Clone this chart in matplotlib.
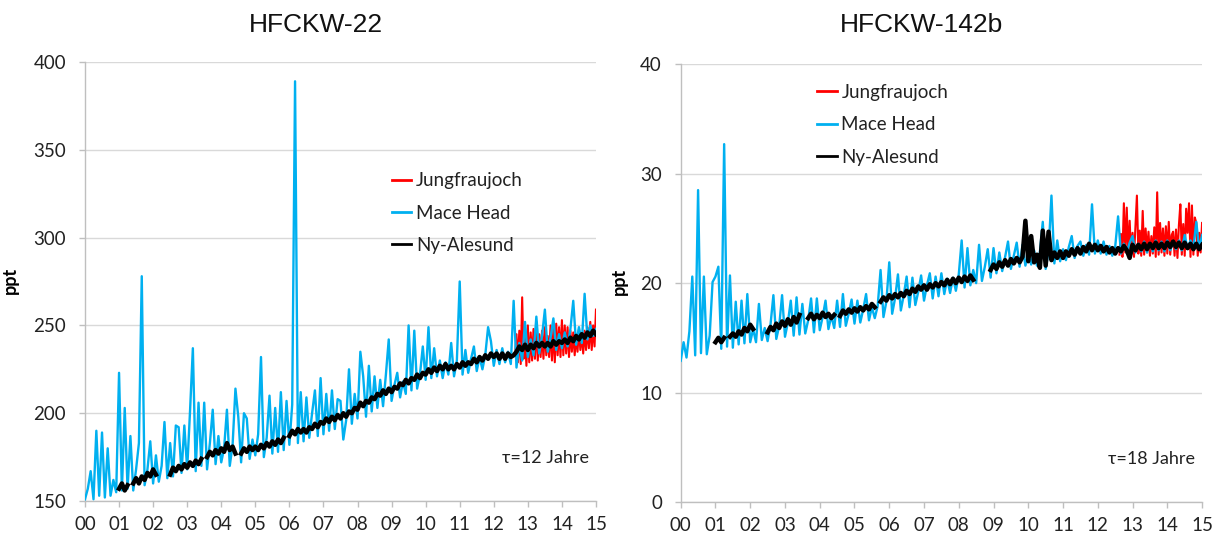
import numpy as np
import matplotlib
matplotlib.use("Agg")
import matplotlib.pyplot as plt
from matplotlib.lines import Line2D

nan = np.nan

# ---------------- HFCKW-22 (ppt) ----------------
# Mace Head, monthly values starting 2000.0
mh22 = [
    151, 157, 167, 151, 190, 153, 189, 152, 180, 153, 162, 155,
    223, 156, 203, 157, 187, 156, 168, 183, 278, 159, 168, 184,
    160, 176, 161, 170, 195, 163, 183, 164, 193, 192, 166, 193,
    168, 201, 237, 167, 206, 170, 206, 168, 183, 202, 171, 187,
    172, 180, 202, 170, 182, 214, 198, 172, 200, 197, 174, 185,
    176, 188, 232, 175, 186, 210, 177, 203, 178, 212, 179, 207,
    182, 205, 389, 183, 212, 184, 209, 186, 200, 213, 187, 220,
    188, 211, 190, 213, 191, 208, 207, 185, 196, 225, 194, 211,
    197, 235, 221, 198, 227, 201, 221, 203, 219, 204, 222, 242,
    207, 216, 223, 209, 218, 211, 250, 213, 247, 214, 222, 238,
    219, 249, 220, 237, 221, 230, 220, 229, 222, 240, 221, 230,
    275, 222, 236, 223, 231, 238, 224, 232, 225, 233, 249, 241,
    227, 236, 228, 237, 229, 235, 228, 264, 226, 240, 230, 252,
    232, 242, 233, 255, 234, 244, 259, 235, 243, 254, 236, 245,
    237, 246, 238, 248, 264, 239, 249, 240, 268, 242, 250, 244,
    248,
]
# Ny-Alesund, monthly values starting 2001.0 (nan = no data)
ny22 = [
    157, 160, 156, 159, nan, 160, 163, 160, 164, 162, 166, 164,
    168, 165, nan, nan, nan, nan, 165, 169, 167, 170, 168, 171,
    169, 172, 170, 173, 171, 174, nan, 175, 178, 176, 179, 177,
    180, 178, 183, 179, 181, 177, nan, 177, 180, 178, 181, 179,
    181, 179, 182, 180, 183, 181, 184, 182, 185, 183, 186, nan,
    187, 190, 188, 191, 189, 191, 189, 192, 191, 194, 192, 195,
    194, 197, 195, 198, 196, 199, 197, 200, 198, 201, 200, 203,
    202, 206, 204, 207, 206, 209, 208, 211, 210, 213, 211, 214,
    212, 215, 214, 217, 216, 219, 217, 220, 219, 222, 220, 223,
    222, 225, 223, 226, 224, 227, 225, 228, 225, 227, 225, 228,
    226, 229, 227, 229, 228, 231, 229, 232, 230, 233, 231, 234,
    232, 234, 231, 234, 231, 234, 232, 233, 235, 238, 236, 239,
    236, 239, 237, 240, 238, 240, 238, 240, 238, 241, 239, 241,
    240, 242, 240, 243, 241, 244, 242, 245, 243, 246, 244, 247,
    245,
]
# Jungfraujoch, half-monthly values starting 2012.625
jf22 = [
    233, 245, 229, 247, 228, 266, 231, 244, 227, 250, 229, 246,
    230, 248, 231, 252, 230, 245, 232, 247, 231, 249, 233, 244,
    232, 250, 230, 248, 229, 251, 233, 249, 232, 253, 233, 250,
    234, 249, 232, 247, 235, 246, 233, 244, 235, 248, 236, 245,
    234, 247, 236, 249, 237, 252, 236, 250, 238, 259,
]

# ---------------- HFCKW-142b (ppt) ----------------
mh142 = [
    12.9, 14.6, 13.2, 15.6, 20.6, 13.4, 28.5, 13.6, 20.6, 13.5, 15.2, 20.1,
    20.6, 21.5, 14.0, 32.7, 14.2, 20.7, 14.1, 18.3, 14.4, 18.4, 14.5, 19.0,
    14.6, 15.8, 14.6, 18.1, 14.8, 15.9, 14.7, 16.2, 18.9, 14.9, 16.1, 18.9,
    15.1, 16.4, 18.4, 15.2, 18.7, 15.3, 18.1, 15.4, 16.6, 18.6, 15.5, 18.6,
    15.7, 16.9, 18.4, 15.8, 17.0, 15.9, 18.4, 16.0, 19.0, 16.1, 17.2, 18.5,
    16.3, 18.4, 16.4, 17.6, 19.0, 16.6, 17.8, 16.8, 17.9, 21.2, 16.9, 18.3,
    21.9, 17.2, 18.6, 20.8, 17.5, 18.9, 20.6, 17.8, 20.5, 18.0, 19.2, 20.7,
    18.4, 19.8, 20.9, 18.6, 20.6, 18.8, 20.9, 19.0, 20.4, 19.1, 20.5, 19.3,
    20.8, 23.9, 19.6, 23.2, 19.8, 21.2, 20.0, 23.5, 20.2, 21.5, 23.1, 20.5,
    23.2, 20.9, 22.8, 21.1, 22.4, 23.8, 21.3, 22.5, 23.7, 21.5, 23.5, 21.6,
    22.6, 21.7, 23.0, 21.6, 22.8, 25.6, 21.3, 22.9, 28.0, 21.8, 23.9, 22.0,
    23.1, 22.1, 23.3, 24.3, 22.3, 23.4, 23.8, 22.5, 23.5, 22.6, 27.2, 22.7,
    23.9, 22.7, 23.8, 22.6, 23.4, 22.5, 23.3, 26.1, 22.7, 23.6, 22.8, 23.7,
    24.3, 22.8, 23.6, 22.9, 23.8, 22.8, 23.7, 22.9, 23.9, 23.0, 23.8, 22.9,
    23.9, 23.0, 23.8, 23.1, 23.9, 23.0, 24.4, 23.1, 23.9, 23.2, 25.6, 23.1,
    24.4,
]
ny142 = [
    14.6, 15.0, 14.6, 15.0, nan, 15.1, 15.4, 15.1, 15.6, 15.3, 15.9, 15.6,
    16.2, 15.8, nan, nan, nan, nan, 15.5, 16.0, 15.7, 16.3, 15.9, 16.5,
    16.1, 16.7, 16.2, 16.9, 16.4, 17.1, nan, nan, 16.8, 17.2, 16.7, 17.1,
    16.8, 17.3, 16.9, 17.2, 16.8, 17.1, nan, 17.0, 17.5, 17.2, 17.6, 17.3,
    17.7, 17.4, 17.8, 17.5, 17.9, 17.6, 18.1, 17.8, nan, 18.3, 18.7, 18.4,
    18.9, 18.6, 19.0, 18.7, 19.1, 18.8, 19.3, 19.0, 19.5, 19.2, 19.7, 19.4,
    19.8, 19.4, 19.9, 19.6, 20.0, 19.7, 20.1, 19.8, 20.3, 19.9, 20.4, 20.0,
    20.5, 20.1, 20.6, 20.2, 20.7, 20.3, nan, nan, nan, nan, nan, 21.2,
    21.7, 21.3, 21.9, 21.5, 22.1, 21.6, 22.2, 21.8, 22.3, 21.9, 22.4, 25.7,
    22.0, 24.3, 21.9, 22.6, 21.4, 24.8, 21.6, 24.7, 22.1, 22.8, 22.3, 22.9,
    22.3, 22.9, 22.5, 23.1, 22.6, 23.2, 22.7, 23.3, 22.9, 23.6, 23.0, 23.5,
    23.0, 23.4, 22.9, 23.3, 22.8, 23.2, 22.7, 23.2, 22.9, 23.4, 23.0, 22.3,
    23.5, 23.0, 23.5, 23.1, 23.6, 23.1, 23.6, 23.2, 23.7, 23.2, 23.6, 23.2,
    23.7, 23.3, 23.8, 23.3, 23.7, 23.2, 23.7, 23.2, 23.6, 23.1, 23.6, 23.1,
    23.5,
]
jf142 = [
    22.6, 24.5, 22.4, 27.3, 22.8, 26.9, 22.5, 25.7, 22.6, 24.6, 22.4, 25.2,
    28.0, 22.7, 24.8, 22.5, 26.6, 22.6, 25.0, 22.8, 24.7, 22.5, 24.3, 22.7,
    25.1, 22.4, 28.3, 22.6, 25.5, 22.8, 25.0, 22.5, 25.2, 22.7, 25.6, 22.6,
    24.4, 24.7, 22.5, 24.9, 22.3, 25.3, 27.2, 22.6, 25.4, 22.5, 26.8, 24.6,
    27.3, 22.4, 27.1, 22.6, 26.0, 25.5, 22.5, 24.6, 22.8, 25.5,
]

year_labels = ["%02d" % y for y in range(16)]
station_names = ["Jungfraujoch", "Mace Head", "Ny-Alesund"]
station_colors = ["#ff0000", "#00b0f0", "#000000"]

GRID = "#d9d9d9"
AXIS = "#bfbfbf"
TICKFONT = ["Lato", "DejaVu Sans"]


def time_axis(values, start, per_year):
    return start + np.arange(len(values)) / per_year


def draw_panel(ax, mh, ny, jf, ylim, yticks, tau_text, leg_anchor, ylabel_x):
    ax.plot(time_axis(jf, 12.625, 24), jf, color=station_colors[0], lw=1.5,
            zorder=3)
    ax.plot(time_axis(mh, 0.0, 12), mh, color=station_colors[1], lw=1.7,
            zorder=4)
    ax.plot(time_axis(ny, 1.0, 12), ny, color=station_colors[2], lw=3.2,
            zorder=5)

    ax.set_xlim(0, 15)
    ax.set_ylim(*ylim)
    ax.set_xticks(range(16))
    ax.set_xticklabels(year_labels)
    ax.set_yticks(yticks)
    ax.set_yticklabels([str(v) for v in yticks])
    ax.yaxis.grid(True, color=GRID, lw=1.0, zorder=0)
    ax.set_axisbelow(True)
    for side in ("top", "right"):
        ax.spines[side].set_visible(False)
    for side in ("left", "bottom"):
        ax.spines[side].set_color(AXIS)
        ax.spines[side].set_linewidth(1.0)
    ax.tick_params(axis="both", direction="out", length=4.5, width=1.0,
                   color=AXIS, labelcolor="#222222", labelsize=13.5)
    ax.tick_params(axis="y", pad=9)
    ax.tick_params(axis="x", pad=6)
    for lab in ax.get_xticklabels() + ax.get_yticklabels():
        lab.set_family(TICKFONT)

    ax.set_ylabel("ppt", fontsize=13, fontweight="bold", family=TICKFONT)
    ax.yaxis.set_label_coords(ylabel_x, 0.503)

    handles = [Line2D([], [], color=c, lw=2.0) for c in station_colors]
    leg = ax.legend(handles, station_names, loc="upper left",
                    bbox_to_anchor=leg_anchor, frameon=False,
                    borderpad=0, borderaxespad=0, handlelength=1.05,
                    handletextpad=0.25, labelspacing=0.82,
                    prop={"family": TICKFONT, "size": 13.5})
    for t in leg.get_texts():
        t.set_color("#222222")

    ax.text(tau_text[0], tau_text[1], tau_text[2], transform=ax.transAxes,
            ha="left", va="center", fontsize=13, color="#222222",
            family=TICKFONT)


fig = plt.figure(figsize=(12.21, 5.40), dpi=100)
ax1 = fig.add_axes([0.0696, 0.0722, 0.4185, 0.8130])
ax2 = fig.add_axes([0.5575, 0.0704, 0.4270, 0.8106])

draw_panel(ax1, mh22, ny22, jf22, (150, 400), [150, 200, 250, 300, 350, 400],
           (0.816, 0.098, "τ=12 Jahre"), (0.60, 0.749), -0.129)
draw_panel(ax2, mh142, ny142, jf142, (0, 40), [0, 10, 20, 30, 40],
           (0.820, 0.098, "τ=18 Jahre"), (0.2615, 0.955), -0.101)

fig.text(316 / 1221, 1 - 25 / 540, "HFCKW-22", ha="center", va="center",
         fontsize=19, family=["Liberation Sans", "DejaVu Sans"], color="#111111")
fig.text(921 / 1221, 1 - 25 / 540, "HFCKW-142b", ha="center", va="center",
         fontsize=19, family=["Liberation Sans", "DejaVu Sans"], color="#111111")

fig.savefig("out.png", dpi=100, facecolor="white")
